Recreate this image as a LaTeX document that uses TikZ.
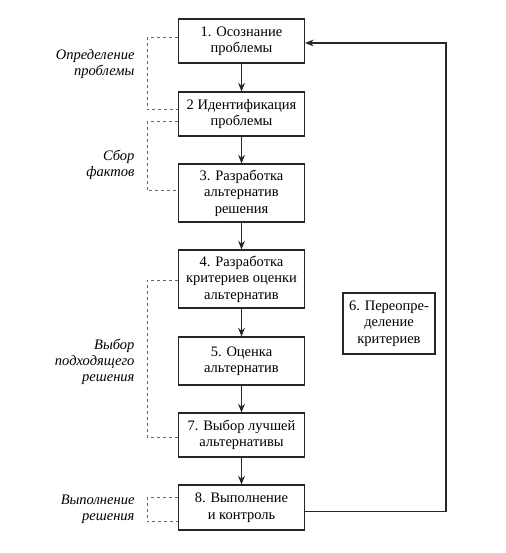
\documentclass[tikz,border=0pt]{standalone}
\usepackage{fontspec}
\setmainfont{Liberation Serif}
\usepackage{tikz}
\usetikzlibrary{arrows.meta,positioning}
\tikzset{
  ar/.style={-{Stealth[length=3mm,width=2.4mm]},line width=1.1pt,black!85},
  box/.style={draw=black!85,line width=1.2pt,align=center,inner sep=2pt,minimum width=126pt,font=\fontsize{14.5}{16.5}\selectfont},
  brk/.style={dashed,gray!80!black,line width=1pt},
  lbl/.style={align=right,anchor=east,font=\itshape\fontsize{14.5}{16}\selectfont}
}
\begin{document}
\begin{tikzpicture}[x=1pt,y=-1pt]
\useasboundingbox (0,0) rectangle (505,553);
% main chain
\node[box,minimum height=44pt] (s1) at (241.5,41) {1. Осознание\\проблемы};
\node[box,minimum height=44pt] (s2) at (241.5,114) {2 Идентификация\\проблемы};
\node[box,minimum height=58pt] (s3) at (241.5,193) {3. Разработка\\альтернатив\\решения};
\node[box,minimum height=58pt] (s4) at (241.5,279) {4. Разработка\\критериев оценки\\альтернатив};
\node[box,minimum height=48pt] (s5) at (241.5,361) {5. Оценка\\альтернатив};
\node[box,minimum height=44pt] (s7) at (241.5,435) {7. Выбор лучшей\\альтернативы};
\node[box,minimum height=45pt] (s8) at (241.5,507.5) {8. Выполнение\\и контроль};
\node[box,minimum width=92pt,minimum height=61pt] (s6) at (389,323.5) {6. Переопре-\\деление\\критериев};
\draw[ar] (s1) -- (s2);
\draw[ar] (s2) -- (s3);
\draw[ar] (s3) -- (s4);
\draw[ar] (s4) -- (s5);
\draw[ar] (s5) -- (s7);
\draw[ar] (s7) -- (s8);
% feedback loop
\coordinate (fb) at (446,0);
\draw[ar] ([yshift=-4pt]s8.east) -- ([yshift=-4pt]s8.east -| fb) -- ([yshift=-2pt]s1.east -| fb) -- ([yshift=-2pt]s1.east);
% stage brackets
\coordinate (lx) at (147,0);
\draw[brk] ([yshift=3pt]s1.west) -- ([yshift=3pt]s1.west -| lx) -- ([yshift=4pt]s2.west -| lx) -- ([yshift=4pt]s2.west);
\draw[brk] ([yshift=-8pt]s2.west) -- ([yshift=-8pt]s2.west -| lx) -- ([yshift=2pt]s3.west -| lx) -- ([yshift=2pt]s3.west);
\draw[brk] ([yshift=-1pt]s4.west) -- ([yshift=-1pt]s4.west -| lx) -- ([yshift=-2pt]s7.west -| lx) -- ([yshift=-2pt]s7.west);
\draw[brk] ([yshift=10pt]s8.west) -- ([yshift=10pt]s8.west -| lx) -- ([yshift=-14pt]s8.west -| lx) -- ([yshift=-14pt]s8.west);
\node[lbl] (l1) at (138,64) {Определение\\проблемы};
\node[lbl] (l2) at (138,165) {Сбор\\фактов};
\node[lbl] (l3) at (138,362) {Выбор\\подходящего\\решения};
\node[lbl] (l4) at (138,509) {Выполнение\\решения};
\end{tikzpicture}
\end{document}
